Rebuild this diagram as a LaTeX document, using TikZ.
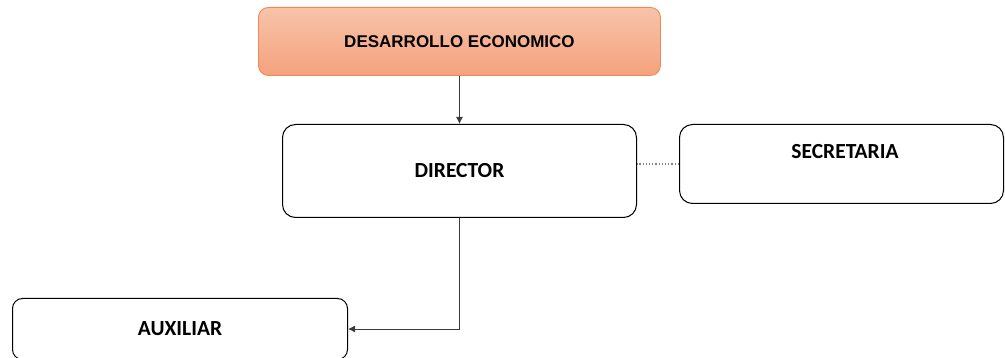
\documentclass[tikz,border=0pt]{standalone}
\usepackage{fontspec}
\setmainfont{Carlito}
\newfontfamily\headfont{Liberation Sans}
\usetikzlibrary{arrows.meta, positioning}
\definecolor{orgline}{HTML}{EE8A55}
\definecolor{orgtop}{HTML}{F8C3AA}
\definecolor{orgbot}{HTML}{F4A27D}
\definecolor{linkgray}{HTML}{3C3C3C}
\definecolor{tiegray}{HTML}{808080}
\tikzset{
  headbox/.style={draw=orgline, top color=orgtop, bottom color=orgbot, line width=0.9pt,
                  rounded corners=10pt, inner sep=0pt, anchor=north west,
                  font=\headfont\fontsize{17}{20}\selectfont\bfseries},
  unitbox/.style={draw=black, fill=white, line width=1pt, rounded corners=13pt,
                  inner sep=0pt, anchor=north west,
                  font=\fontsize{21.5}{25}\selectfont\bfseries},
  unitname/.style={inner sep=0pt, font=\fontsize{21.5}{25}\selectfont\bfseries},
  link/.style={draw=linkgray, line width=0.9pt, -{Latex[length=7pt,width=7pt]}},
  tie/.style={draw=tiegray, dotted, line width=1.2pt},
}
\begin{document}
\begin{tikzpicture}[x=1pt, y=-1pt]
\useasboundingbox (0,0) rectangle (1005,358);
\node[headbox, minimum width=402pt, minimum height=68pt] (dev) at (258,7) {DESARROLLO ECONOMICO};
\node[unitbox, minimum width=354pt, minimum height=93pt] (dir) at (282,124) {\raisebox{-2pt}{DIRECTOR}};
\node[unitbox, minimum width=324pt, minimum height=79pt] (sec) at (679,124) {};
\node[unitname] (sect) at (845,152) {SECRETARIA};
\node[unitbox, minimum width=335pt, minimum height=61pt, rounded corners=10pt] (aux) at (12,298) {\raisebox{-3pt}{AUXILIAR}};
\draw[link] (dev) -- (dir);
\draw[link] (dir) |- (aux);
\draw[tie] (sec.west) -- (sec.west -| dir.east);
\end{tikzpicture}
\end{document}
